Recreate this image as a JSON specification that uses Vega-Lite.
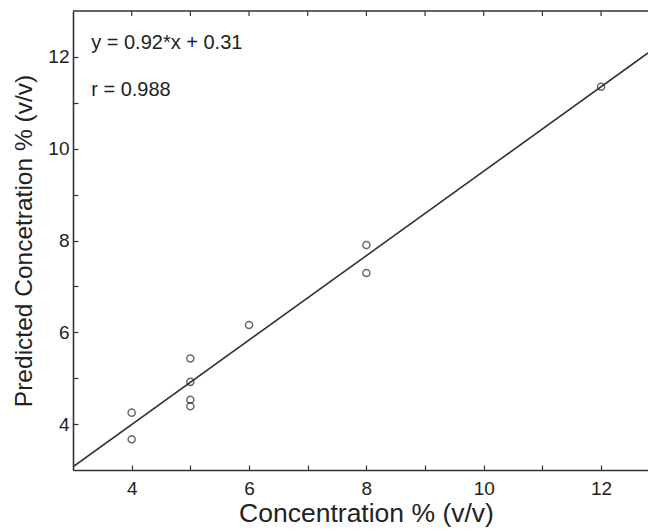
{
  "$schema": "https://vega.github.io/schema/vega-lite/v6.json",
  "width": 575,
  "height": 459,
  "autosize": {"type": "none"},
  "padding": {"left": 73, "top": 11, "right": 0, "bottom": 61},
  "background": "white",
  "config": {
    "view": {"stroke": null},
    "axis": {
      "grid": false,
      "domainColor": "#333333",
      "domainWidth": 1.6,
      "tickColor": "#333333",
      "tickWidth": 1.2,
      "tickSize": -5,
      "labelFont": "Liberation Sans",
      "labelFontSize": 19,
      "labelColor": "#222222",
      "titleFont": "Liberation Sans",
      "titleFontWeight": "normal",
      "titleColor": "#222222"
    }
  },
  "datasets": {
    "samples": [
      {"conc": 4, "pred": 4.25},
      {"conc": 4, "pred": 3.67},
      {"conc": 5, "pred": 5.43},
      {"conc": 5, "pred": 4.92},
      {"conc": 5, "pred": 4.53},
      {"conc": 5, "pred": 4.39},
      {"conc": 6, "pred": 6.16},
      {"conc": 8, "pred": 7.9},
      {"conc": 8, "pred": 7.29},
      {"conc": 12, "pred": 11.35}
    ],
    "fit": [
      {"conc": 3, "pred": 3.07},
      {"conc": 12.8, "pred": 12.086}
    ],
    "notes": [
      {"conc": 3.31, "pred": 12.3, "note": "y = 0.92*x + 0.31"},
      {"conc": 3.31, "pred": 11.28, "note": "r = 0.988"}
    ],
    "topTicks": [
      {"conc": 4}, {"conc": 5}, {"conc": 6}, {"conc": 7}, {"conc": 8},
      {"conc": 9}, {"conc": 10}, {"conc": 11}, {"conc": 12}
    ],
    "frameTop": [
      {"pred": 13}
    ]
  },
  "layer": [
    {
      "data": {"name": "fit"},
      "mark": {"type": "line", "color": "#333333", "strokeWidth": 1.6, "clip": true},
      "encoding": {
        "x": {
          "field": "conc",
          "type": "quantitative",
          "scale": {"domain": [3, 12.8], "nice": false, "zero": false},
          "axis": {
            "orient": "bottom",
            "values": [4, 5, 6, 7, 8, 9, 10, 11, 12],
            "format": "d",
            "labelExpr": "datum.value % 2 === 0 ? datum.label : ''",
            "labelPadding": 14,
            "title": "Concentration % (v/v)",
            "titleFontSize": 26.5,
            "titlePadding": 2,
            "titleX": 293
          }
        },
        "y": {
          "field": "pred",
          "type": "quantitative",
          "scale": {"domain": [3, 13], "nice": false, "zero": false},
          "axis": {
            "orient": "left",
            "values": [4, 5, 6, 7, 8, 9, 10, 11, 12],
            "format": "d",
            "labelExpr": "datum.value % 2 === 0 ? datum.label : ''",
            "labelPadding": 9,
            "title": "Predicted Concetration % (v/v)",
            "titleFontSize": 24.5,
            "titlePadding": 11
          }
        }
      }
    },
    {
      "data": {"name": "frameTop"},
      "mark": {"type": "rule", "color": "#333333", "strokeWidth": 1.6},
      "encoding": {
        "y": {"field": "pred", "type": "quantitative"}
      }
    },
    {
      "data": {"name": "topTicks"},
      "mark": {"type": "rule", "color": "#333333", "strokeWidth": 1.2},
      "encoding": {
        "x": {"field": "conc", "type": "quantitative"},
        "y": {"datum": 13, "type": "quantitative"},
        "y2": {"datum": 12.89}
      }
    },
    {
      "data": {"name": "samples"},
      "mark": {"type": "point", "shape": "circle", "filled": false, "size": 50, "color": "#2a2a2a", "strokeWidth": 1.5},
      "encoding": {
        "x": {"field": "conc", "type": "quantitative"},
        "y": {"field": "pred", "type": "quantitative"}
      }
    },
    {
      "data": {"name": "notes"},
      "mark": {"type": "text", "align": "left", "baseline": "middle", "font": "Liberation Sans", "fontSize": 20, "color": "#222222"},
      "encoding": {
        "x": {"field": "conc", "type": "quantitative"},
        "y": {"field": "pred", "type": "quantitative"},
        "text": {"field": "note"}
      }
    }
  ]
}
